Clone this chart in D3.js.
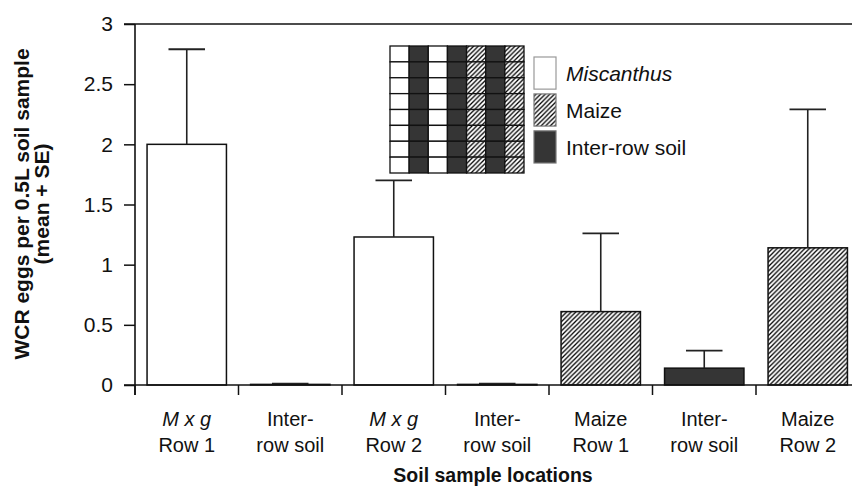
<!DOCTYPE html>
<html>
<head>
<meta charset="utf-8">
<script src="https://cdn.jsdelivr.net/npm/d3@7"></script>
<style>
  body { margin: 0; background: #fff; }
  svg { display: block; font-family: "Liberation Sans", Arial, Helvetica, sans-serif; }
</style>
</head>
<body>
<svg id="chart" width="852" height="486"></svg>
<script>
// categories and values
var locations = ["Mxg Row 1", "Inter-row 1", "Mxg Row 2", "Inter-row 2", "Maize Row 1", "Inter-row 3", "Maize Row 2"];
var labelTop = ["M x g", "Inter-", "M x g", "Inter-", "Maize", "Inter-", "Maize"];
var labelBottom = ["Row 1", "row soil", "Row 2", "row soil", "Row 1", "row soil", "Row 2"];
var labelItalic = [true, false, true, false, false, false, false];
var cropType = ["Miscanthus", "Inter-row soil", "Miscanthus", "Inter-row soil", "Maize", "Inter-row soil", "Maize"];
var eggMeans = [2.0, 0.005, 1.23, 0.005, 0.61, 0.14, 1.14];
var eggSE = [0.79, 0.006, 0.47, 0.006, 0.65, 0.145, 1.15];
var yTicks = [0, 0.5, 1, 1.5, 2, 2.5, 3];

// legend: field layout (columns of plots) and key
var layoutColumns = ["Miscanthus", "Inter-row soil", "Miscanthus", "Inter-row soil", "Maize", "Inter-row soil", "Maize"];
var layoutRows = d3.range(8);
var legendKeys = ["Miscanthus", "Maize", "Inter-row soil"];

var svg = d3.select("#chart");
var margin = {left: 135, top: 24, bottom: 101};
var height = 486 - margin.top - margin.bottom;

// hatch pattern for maize
var defs = svg.append("defs");
var pat = defs.append("pattern")
    .attr("id", "hatch")
    .attr("patternUnits", "userSpaceOnUse")
    .attr("width", 4.6)
    .attr("height", 4.6);
pat.append("rect").attr("width", 4.6).attr("height", 4.6).attr("fill", "#fff");
pat.append("path")
    .attr("d", "M-1,5.6 L5.6,-1 M-1,1 L1,-1 M3.6,5.6 L5.6,3.6")
    .attr("stroke", "#000")
    .attr("stroke-width", 1.3);

function fillFor(type) {
  if (type == "Maize") return "url(#hatch)";
  if (type == "Inter-row soil") return "#353535";
  return "#fff";
}

var xScale = d3.scaleBand()
    .domain(locations)
    .range([margin.left, margin.left + 7 * 103.5])
    .paddingInner(0.233)
    .paddingOuter(0.1165);

var yScale = d3.scaleLinear()
    .domain([0, 3])
    .range([margin.top + height, margin.top]);

var data = locations.map(function(d, i) {
  return {key: d, mean: eggMeans[i], se: eggSE[i], type: cropType[i], top: labelTop[i], bottom: labelBottom[i], italic: labelItalic[i]};
});

var g = svg.append("g");

// bars
g.selectAll(".bar")
  .data(data)
  .enter()
  .append("rect")
    .attr("class", "bar")
    .attr("x", function(d) { return xScale(d.key); })
    .attr("y", function(d) { return yScale(d.mean); })
    .attr("width", xScale.bandwidth())
    .attr("height", function(d) { return yScale(0) - yScale(d.mean); })
    .attr("fill", function(d) { return fillFor(d.type); })
    .attr("stroke", "#111")
    .attr("stroke-width", 1.5);

// error bars (mean + SE)
var capW = xScale.bandwidth() * 0.46;
g.selectAll(".errLine")
  .data(data)
  .enter()
  .append("line")
    .attr("x1", function(d) { return xScale(d.key) + xScale.bandwidth() / 2; })
    .attr("x2", function(d) { return xScale(d.key) + xScale.bandwidth() / 2; })
    .attr("y1", function(d) { return yScale(d.mean); })
    .attr("y2", function(d) { return yScale(d.mean + d.se); })
    .attr("stroke", "#222")
    .attr("stroke-width", 1.6);

g.selectAll(".errCap")
  .data(data)
  .enter()
  .append("line")
    .attr("x1", function(d) { return xScale(d.key) + xScale.bandwidth() / 2 - capW / 2; })
    .attr("x2", function(d) { return xScale(d.key) + xScale.bandwidth() / 2 + capW / 2; })
    .attr("y1", function(d) { return yScale(d.mean + d.se); })
    .attr("y2", function(d) { return yScale(d.mean + d.se); })
    .attr("stroke", "#222")
    .attr("stroke-width", 1.8);

// y axis
var yAxis = svg.append("g")
    .attr("transform", "translate(" + margin.left + ",0)")
    .call(d3.axisLeft(yScale).tickValues(yTicks).tickSize(11).tickPadding(11).tickSizeOuter(0)
      .tickFormat(function(d) { return d; }));
yAxis.select(".domain").remove();
yAxis.selectAll(".tick line").attr("stroke", "#111").attr("stroke-width", 1.5);
yAxis.selectAll("text")
    .attr("font-size", 21)
    .attr("fill", "#111")
    .attr("font-family", "Liberation Sans, Arial, sans-serif");

svg.append("line")
    .attr("x1", margin.left).attr("x2", margin.left)
    .attr("y1", yScale(3)).attr("y2", yScale(0) + 10)
    .attr("stroke", "#111").attr("stroke-width", 1.6);

// top line at 3 and baseline
svg.append("line")
    .attr("x1", margin.left - 11).attr("x2", 852)
    .attr("y1", yScale(3)).attr("y2", yScale(3))
    .attr("stroke", "#111").attr("stroke-width", 1.6);
svg.append("line")
    .attr("x1", margin.left - 11).attr("x2", 852)
    .attr("y1", yScale(0)).attr("y2", yScale(0))
    .attr("stroke", "#111").attr("stroke-width", 1.6);

// x ticks at band boundaries
var boundaries = d3.range(locations.length + 1);
svg.selectAll(".xtick")
  .data(boundaries)
  .enter()
  .append("line")
    .attr("x1", function(i) { return xScale.range()[0] + i * xScale.step(); })
    .attr("x2", function(i) { return xScale.range()[0] + i * xScale.step(); })
    .attr("y1", yScale(0))
    .attr("y2", yScale(0) + 10)
    .attr("stroke", "#111")
    .attr("stroke-width", 1.5);

// category labels
var lab = svg.selectAll(".xlab")
  .data(data)
  .enter()
  .append("text")
    .attr("text-anchor", "middle")
    .attr("font-size", 20)
    .attr("fill", "#111")
    .attr("x", function(d) { return xScale(d.key) + xScale.bandwidth() / 2; });
lab.append("tspan")
    .attr("x", function(d) { return xScale(d.key) + xScale.bandwidth() / 2; })
    .attr("y", 426)
    .attr("font-style", function(d) { return d.italic ? "italic" : "normal"; })
    .text(function(d) { return d.top; });
lab.append("tspan")
    .attr("x", function(d) { return xScale(d.key) + xScale.bandwidth() / 2; })
    .attr("y", 452)
    .text(function(d) { return d.bottom; });

// axis titles
svg.append("text")
    .attr("x", 493)
    .attr("y", 482)
    .attr("text-anchor", "middle")
    .attr("font-size", 19.5)
    .attr("font-weight", "bold")
    .attr("fill", "#111")
    .text("Soil sample locations");

var yt = svg.append("text")
    .attr("transform", "translate(0,204) rotate(-90)")
    .attr("text-anchor", "middle")
    .attr("font-size", 21)
    .attr("font-weight", "bold")
    .attr("fill", "#111");
yt.append("tspan").attr("x", 0).attr("y", 29).text("WCR eggs per 0.5L soil sample");
yt.append("tspan").attr("x", 0).attr("y", 49).text("(mean + SE)");

// legend: field layout grid
var gx = d3.scaleBand().domain(d3.range(layoutColumns.length)).range([390, 524]);
var gy = d3.scaleBand().domain(layoutRows).range([46, 173]);
var grid = svg.append("g");
layoutColumns.forEach(function(type, c) {
  grid.selectAll(".cell" + c)
    .data(layoutRows)
    .enter()
    .append("rect")
      .attr("x", gx(c))
      .attr("y", function(r) { return gy(r); })
      .attr("width", gx.bandwidth())
      .attr("height", gy.bandwidth())
      .attr("fill", fillFor(type))
      .attr("stroke", "#111")
      .attr("stroke-width", 1.3);
});

// legend key
var ky = d3.scaleBand().domain(legendKeys).range([57, 163]).paddingInner(0.13);
var key = svg.selectAll(".key")
  .data(legendKeys)
  .enter()
  .append("g");
key.append("rect")
    .attr("x", 534)
    .attr("y", function(d) { return ky(d); })
    .attr("width", 22)
    .attr("height", ky.bandwidth())
    .attr("fill", function(d) { return fillFor(d); })
    .attr("stroke", function(d) { return d == "Miscanthus" ? "#999" : "#777"; })
    .attr("stroke-width", 1.2);
key.append("text")
    .attr("x", 566)
    .attr("y", function(d) { return ky(d) + ky.bandwidth() / 2 + 8; })
    .attr("font-size", 21)
    .attr("fill", "#111")
    .attr("font-style", function(d) { return d == "Miscanthus" ? "italic" : "normal"; })
    .text(function(d) { return d; });
</script>
</body>
</html>
